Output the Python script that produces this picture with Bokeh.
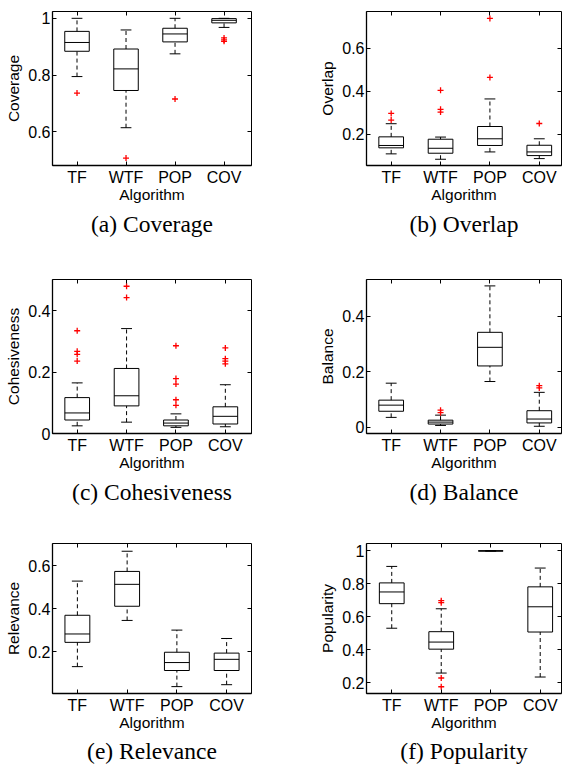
from bokeh.plotting import figure
from bokeh.layouts import gridplot
from bokeh.models import LinearAxis, FixedTicker, Range1d, ColumnDataSource
from bokeh.embed import file_html
from bokeh.resources import INLINE

CATEGORIES = ["TF", "WTF", "POP", "COV"]
POSITIONS = [1, 2, 3, 4]

# (a) Coverage
coverage_lo = [0.795, 0.615, 0.875, 0.968]
coverage_q1 = [0.884, 0.746, 0.917, 0.984]
coverage_med = [0.915, 0.822, 0.945, 0.993]
coverage_q3 = [0.954, 0.892, 0.965, 0.999]
coverage_hi = [1.0, 0.959, 1.0, 1.0]
coverage_out = [[0.737], [0.508], [0.716], [0.931, 0.924, 0.919]]

# (b) Overlap
overlap_lo = [0.110, 0.085, 0.119, 0.088]
overlap_q1 = [0.138, 0.113, 0.149, 0.102]
overlap_med = [0.149, 0.136, 0.180, 0.119]
overlap_q3 = [0.189, 0.178, 0.237, 0.150]
overlap_hi = [0.250, 0.188, 0.365, 0.180]
overlap_out = [[0.298, 0.267], [0.405, 0.317, 0.304], [0.739, 0.465], [0.251]]

# (c) Cohesiveness
cohes_lo = [0.025, 0.037, 0.020, 0.022]
cohes_q1 = [0.044, 0.090, 0.025, 0.031]
cohes_med = [0.067, 0.123, 0.034, 0.056]
cohes_q3 = [0.117, 0.212, 0.044, 0.087]
cohes_hi = [0.165, 0.342, 0.064, 0.159]
cohes_out = [[0.335, 0.268, 0.258, 0.236], [0.480, 0.443],
             [0.286, 0.179, 0.161, 0.110, 0.092], [0.279, 0.244, 0.236, 0.227]]

# (d) Balance
balance_lo = [0.036, 0.007, 0.165, 0.004]
balance_q1 = [0.058, 0.012, 0.221, 0.016]
balance_med = [0.080, 0.019, 0.288, 0.030]
balance_q3 = [0.098, 0.026, 0.342, 0.060]
balance_hi = [0.159, 0.044, 0.509, 0.126]
balance_out = [[], [0.062, 0.053], [], [0.150, 0.142]]

# (e) Relevance
relev_lo = [0.131, 0.346, 0.038, 0.047]
relev_q1 = [0.244, 0.412, 0.113, 0.113]
relev_med = [0.283, 0.514, 0.150, 0.165]
relev_q3 = [0.370, 0.574, 0.198, 0.194]
relev_hi = [0.529, 0.668, 0.301, 0.262]
relev_out = [[], [], [], []]

# (f) Popularity
popul_lo = [0.531, 0.259, 1.0, 0.235]
popul_q1 = [0.680, 0.404, 1.0, 0.508]
popul_med = [0.751, 0.447, 1.0, 0.661]
popul_q3 = [0.806, 0.510, 1.0, 0.782]
popul_hi = [0.906, 0.649, 1.0, 0.896]
popul_out = [[], [0.698, 0.686, 0.229, 0.176], [], []]

SANS = "Liberation Sans"
SERIF = "Liberation Serif"
BOX_HALF = 0.25
CAP_HALF = 0.11


def panel(caption, ylabel, lo, q1, med, q3, hi, outs, yr, yticks, xr,
          width, height, bl, br, bt, bb, title_standoff=8):
    p = figure(width=width, height=height, output_backend="svg",
               toolbar_location=None, x_range=Range1d(*xr),
               y_range=Range1d(*yr), min_border_left=bl, min_border_right=br,
               min_border_top=bt, min_border_bottom=bb,
               title=caption, title_location="below")
    p.grid.visible = False
    p.outline_line_color = "black"
    p.outline_line_width = 1
    p.background_fill_color = "white"
    p.border_fill_color = "white"

    src = ColumnDataSource(dict(
        x=POSITIONS, lo=lo, q1=q1, med=med, q3=q3, hi=hi,
        left=[x - BOX_HALF for x in POSITIONS],
        right=[x + BOX_HALF for x in POSITIONS],
        cl=[x - CAP_HALF for x in POSITIONS],
        cr=[x + CAP_HALF for x in POSITIONS],
    ))
    # whiskers
    p.segment(x0="x", y0="q3", x1="x", y1="hi", source=src,
              line_color="black", line_width=1, line_dash="4 3")
    p.segment(x0="x", y0="lo", x1="x", y1="q1", source=src,
              line_color="black", line_width=1, line_dash="4 3")
    # caps
    p.segment(x0="cl", y0="hi", x1="cr", y1="hi", source=src,
              line_color="black", line_width=1)
    p.segment(x0="cl", y0="lo", x1="cr", y1="lo", source=src,
              line_color="black", line_width=1)
    # boxes
    p.quad(left="left", right="right", bottom="q1", top="q3", source=src,
           fill_color=None, line_color="black", line_width=1)
    # medians
    p.segment(x0="left", y0="med", x1="right", y1="med", source=src,
              line_color="black", line_width=1)
    # outliers
    ox, oy = [], []
    for x, vals in zip(POSITIONS, outs):
        for v in vals:
            ox.append(x)
            oy.append(v)
    p.scatter(ox, oy, marker="cross", size=6, line_color="#ff0000",
              line_width=1.3)

    overrides = {}
    for t in yticks:
        overrides[t] = ("%g" % t)

    xa = p.xaxis[0]
    xa.ticker = FixedTicker(ticks=POSITIONS)
    xa.major_label_overrides = {x: c for x, c in zip(POSITIONS, CATEGORIES)}
    xa.axis_label = "Algorithm"
    ya = p.yaxis[0]
    ya.ticker = FixedTicker(ticks=yticks)
    ya.major_label_overrides = overrides
    ya.axis_label = ylabel
    for ax in (xa, ya):
        ax.major_tick_in = 4
        ax.major_tick_out = 0
        ax.minor_tick_line_color = None
        ax.axis_line_width = 1.3
        ax.axis_line_color = "black"
        ax.major_tick_line_color = "black"
        ax.major_label_text_font = SANS
        ax.major_label_text_font_size = "16px"
        ax.major_label_text_color = "black"
        ax.axis_label_text_font = SANS
        ax.axis_label_text_font_size = "15.5px"
        ax.axis_label_text_font_style = "normal"
        ax.axis_label_text_color = "black"
    xa.major_label_standoff = 3
    xa.axis_label_standoff = -3
    ya.major_label_standoff = 2
    ya.axis_label_standoff = 3

    # tick-only axes on top and right (box style)
    for side, tk in (("above", POSITIONS), ("right", yticks)):
        ax = LinearAxis(ticker=FixedTicker(ticks=tk),
                        major_label_text_font_size="1px",
                        major_label_text_color=None,
                        major_label_standoff=0, axis_line_color=None,
                        major_tick_in=4, major_tick_out=0,
                        minor_tick_line_color=None,
                        major_tick_line_color="black")
        p.add_layout(ax, side)

    p.title.align = "center"
    p.title.text_font = SERIF
    p.title.text_font_size = "23.5px"
    p.title.text_font_style = "normal"
    p.title.text_color = "black"
    p.title.standoff = title_standoff
    return p


LW, RW = 314, 252

# row heights: 268 + 266 + 232 = 766
pa = panel("(a) Coverage", "Coverage", coverage_lo, coverage_q1, coverage_med,
           coverage_q3, coverage_hi, coverage_out, (0.482, 1.024),
           [0.6, 0.8, 1], (0.5, 4.56), LW, 268, 52, 57, 11, 103,
           title_standoff=7)
pb = panel("(b) Overlap", "Overlap", overlap_lo, overlap_q1, overlap_med,
           overlap_q3, overlap_hi, overlap_out, (0.056, 0.771),
           [0.2, 0.4, 0.6], (0.5, 4.45), RW, 268, 52, 1, 11, 103,
           title_standoff=7)
pc = panel("(c) Cohesiveness", "Cohesiveness", cohes_lo, cohes_q1, cohes_med,
           cohes_q3, cohes_hi, cohes_out, (0.0, 0.502),
           [0, 0.2, 0.4], (0.5, 4.53), LW, 266, 52, 59, 11, 101,
           title_standoff=7)
pd = panel("(d) Balance", "Balance", balance_lo, balance_q1, balance_med,
           balance_q3, balance_hi, balance_out, (-0.022, 0.532),
           [0, 0.2, 0.4], (0.5, 4.45), RW, 266, 52, 1, 11, 101,
           title_standoff=7)
pe = panel("(e) Relevance", "Relevance", relev_lo, relev_q1, relev_med,
           relev_q3, relev_hi, relev_out, (0.006, 0.704),
           [0.2, 0.4, 0.6], (0.5, 4.5), LW, 232, 49, 63, 9, 69,
           title_standoff=5)
pf = panel("(f) Popularity", "Popularity", popul_lo, popul_q1, popul_med,
           popul_q3, popul_hi, popul_out, (0.135, 1.045),
           [0.2, 0.4, 0.6, 0.8, 1], (0.49, 4.43), RW, 232, 50, 5, 9, 69,
           title_standoff=5)

grid = gridplot([[pa, pb], [pc, pd], [pe, pf]], toolbar_location=None)

open("out.html", "w").write(file_html(grid, INLINE))
